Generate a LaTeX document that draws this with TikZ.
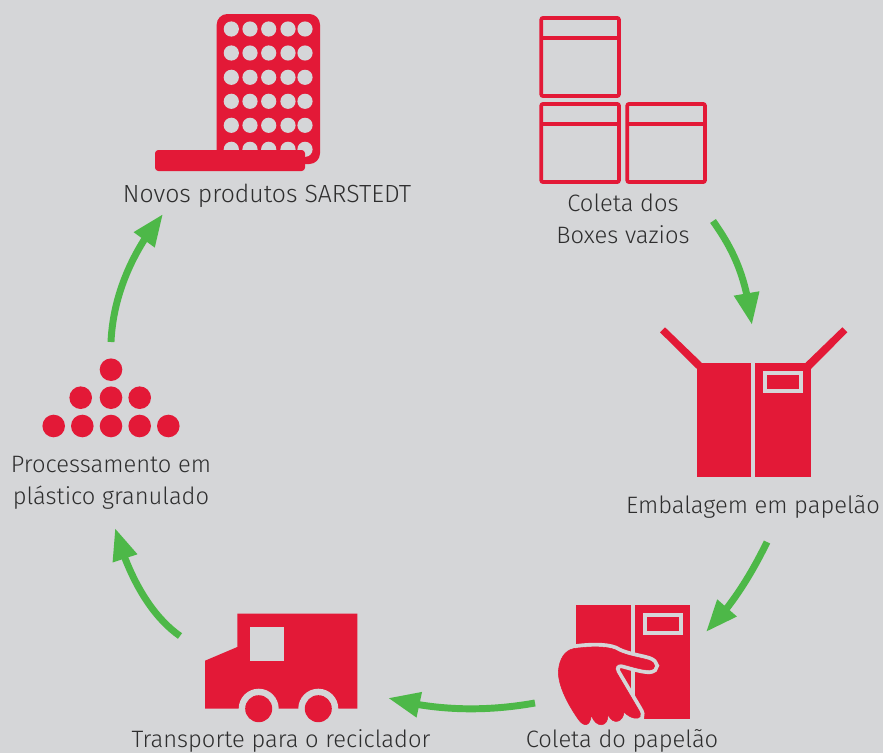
\documentclass[tikz,border=0pt]{standalone}
\usepackage{fontspec}
\setmainfont{Fira Sans Light}
\usetikzlibrary{arrows.meta,bending}
\definecolor{bg}{HTML}{D5D6D8}
\definecolor{rd}{HTML}{E31937}
\definecolor{gn}{HTML}{4DB848}
\definecolor{tx}{HTML}{2E2E2E}
\tikzset{
  lbl/.style={text=tx,font=\fontsize{17.8}{24}\selectfont,inner sep=0pt,align=center},
  flow/.style={draw=gn,line width=5.2pt,-{Triangle[length=24pt,width=18pt,flex=1]}},
  redfill/.style={fill=rd,draw=none},
  gapfill/.style={fill=bg,draw=none},
  crate/.style={draw=rd,line width=2.8pt,rounded corners=1.5pt},
  crateline/.style={draw=rd,line width=2.8pt},
  handfill/.style={fill=rd,draw=rd,line width=0.4pt,line join=round,preaction={draw=bg,line width=6.2pt}}
}
\begin{document}
\begin{tikzpicture}[x=0.75pt,y=-0.75pt]
\fill[bg] (0,0) rectangle (883,753);
\useasboundingbox (0,0) rectangle (883,753);
% blister
\fill[redfill,rounded corners=8pt] (216.7,14) rectangle (320,164);
\foreach \y in {29,53,77.3,101.3,125.3,149.3}
  \foreach \x in {231.3,250,268.7,288,305}
    \fill[gapfill] (\x,\y) circle[radius=7.6];
\fill[redfill,rounded corners=2.5pt] (155,150) rectangle (305,171);
\node[lbl,font=\fontsize{18.6}{24}\selectfont] (novos) at (267,195.5) {Novos produtos SARSTEDT};
% crates
\foreach \xa/\ya in {541.2/17.9,541.2/103.9,627.2/103.9}{
  \draw[crate] (\xa,\ya) rectangle ++(77.8,78.2);
  \draw[crateline] (\xa,\ya+20.1) -- ++(77.8,0);
}
\node[lbl] (coleta) at (623,219) {Coleta dos\\Boxes vazios};
% open box
\fill[redfill] (696.7,362.7) rectangle (751.3,476.7);
\fill[redfill] (755.3,362.7) rectangle (810.7,476.7);
\fill[gapfill] (763.3,370.7) rectangle (803,393.3);
\fill[redfill] (767.3,374.7) rectangle (799,389.3);
\fill[redfill] (660,332.3) -- (665,327.3) -- (701.7,362.7) -- (696.7,368.7) -- cycle;
\fill[redfill] (842.3,327.3) -- (847.3,332.3) -- (810.7,369.3) -- (805.7,362.7) -- cycle;
\node[lbl] (emb) at (753,506.5) {Embalagem em papelão};
% closed box with hand
\fill[redfill] (576,605) rectangle (631,719);
\fill[redfill] (635.3,605) rectangle (690,719);
\fill[gapfill] (642.7,612.7) rectangle (682.7,635.3);
\fill[redfill] (646.7,616.7) rectangle (678.7,631.3);
\begin{scope}[shift={(530,590)},x=0.25pt,y=-0.25pt]
\draw[handfill] (130,176) .. controls (170,170) and (225,167) .. (255,179)
  .. controls (285,197) and (320,200) .. (355,210)
  .. controls (380,218) and (380,238) .. (358,240)
  .. controls (335,240) and (300,228) .. (275,222)
  .. controls (258,220) and (252,233) .. (260,248)
  -- (325,358)
  .. controls (338,378) and (330,388) .. (312,384)
  .. controls (302,382) and (292,376) .. (282,366)
  .. controls (280,395) and (250,408) .. (234,374)
  .. controls (235,412) and (198,416) .. (184,376)
  .. controls (180,412) and (160,410) .. (145,388)
  .. controls (115,345) and (85,290) .. (85,245)
  .. controls (88,205) and (105,182) .. (130,176) -- cycle;
\end{scope}
\node[lbl] (cpap) at (622,740.5) {Coleta do papelão};
% truck
\fill[redfill] (205,660.7) -- (237.3,647) -- (237.3,613.7) -- (357.3,613.7) -- (357.3,708.7) -- (205,708.7) -- cycle;
\fill[gapfill] (250.3,627) rectangle (284,660.7);
\fill[gapfill] (258.7,708.7) circle[radius=20];
\fill[gapfill] (318.3,708.7) circle[radius=20];
\fill[redfill] (258.7,708.7) circle[radius=13.5];
\fill[redfill] (318.3,708.7) circle[radius=13.5];
\node[lbl] (trans) at (281,741) {Transporte para o reciclador};
% pellets
\foreach \x/\y in {111/369.7,80.7/397.7,111/397.7,139.7/397.7,53.7/426,82.3/426,111/426,139.7/426,168.3/426}
  \fill[redfill] (\x,\y) circle[radius=11.3];
\node[lbl] (proc) at (111,483) {Processamento em\\plástico granulado};
% connectors
\coordinate (a1s) at (713,221); \coordinate (a1e) at (752,325);
\coordinate (a2s) at (767,542); \coordinate (a2e) at (706,632);
\coordinate (a3s) at (535,703); \coordinate (a3e) at (388,698);
\coordinate (a4s) at (180,636); \coordinate (a4e) at (115,528);
\coordinate (a5s) at (111,342); \coordinate (a5e) at (163,214);
\draw[flow] (a1s) .. controls (735,252) and (746,278) .. (a1e);
\draw[flow] (a2s) .. controls (750,577) and (730,608) .. (a2e);
\draw[flow] (a3s) .. controls (490,711) and (440,712) .. (a3e);
\draw[flow] (a4s) .. controls (150,615) and (128,575) .. (a4e);
\draw[flow] (a5s) .. controls (113,295) and (133,250) .. (a5e);
\end{tikzpicture}
\end{document}
